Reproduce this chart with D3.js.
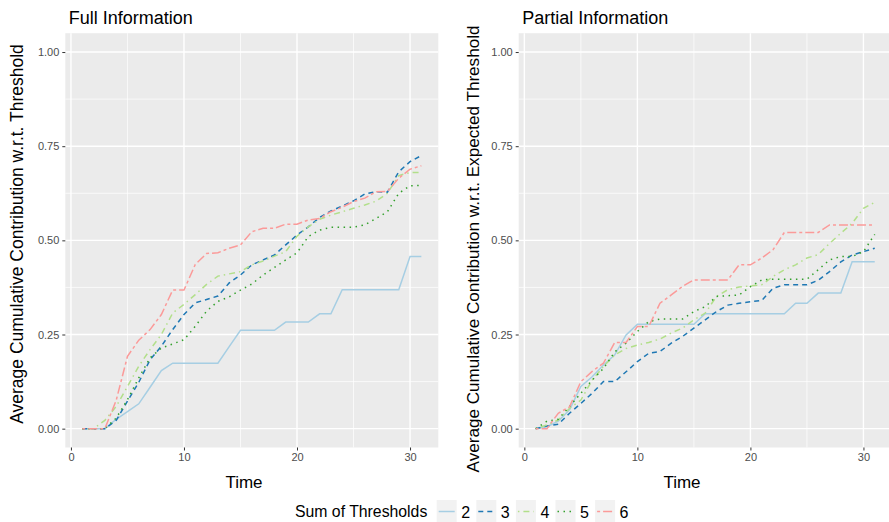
<!DOCTYPE html>
<html>
<head>
<meta charset="utf-8">
<script src="https://cdn.jsdelivr.net/npm/d3@7"></script>
<style>
  body { margin: 0; background: #fff; }
  text { font-family: "Liberation Sans", Arial, sans-serif; }
</style>
</head>
<body>
<div id="chart"></div>
<script>
// time steps
const times = [1,2,3,4,5,6,7,8,9,10,11,12,13,14,15,16,17,18,19,20,21,22,23,24,25,26,27,28,29,30,31];

// Full Information panel
const full2 = [0,0,0,0.025,0.045,0.066,0.11,0.154,0.174,0.174,0.174,0.174,0.174,0.218,0.261,0.261,0.261,0.261,0.283,0.283,0.283,0.305,0.305,0.369,0.369,0.369,0.369,0.369,0.369,0.457,0.457];
const full3 = [0,0,0,0.022,0.073,0.123,0.183,0.219,0.263,0.303,0.334,0.343,0.352,0.387,0.408,0.435,0.448,0.461,0.488,0.514,0.536,0.561,0.578,0.591,0.605,0.623,0.629,0.628,0.682,0.709,0.725];
const full4 = [0,0,0.022,0.059,0.112,0.166,0.21,0.25,0.307,0.33,0.356,0.383,0.405,0.411,0.417,0.435,0.445,0.458,0.47,0.511,0.536,0.556,0.567,0.576,0.585,0.594,0.604,0.625,0.672,0.68,0.68];
const full5 = [0,0,0,0.028,0.077,0.135,0.188,0.214,0.225,0.236,0.272,0.312,0.338,0.35,0.368,0.384,0.408,0.428,0.448,0.467,0.51,0.527,0.535,0.535,0.535,0.541,0.558,0.576,0.625,0.645,0.646];
const full6 = [0,0,0,0.075,0.192,0.235,0.263,0.303,0.368,0.368,0.436,0.465,0.467,0.479,0.488,0.523,0.532,0.532,0.543,0.543,0.554,0.558,0.576,0.588,0.603,0.612,0.629,0.63,0.665,0.689,0.698];

// Partial Information panel
const partial2 = [0,0.005,0.02,0.05,0.112,0.138,0.169,0.196,0.249,0.277,0.277,0.277,0.277,0.277,0.277,0.305,0.305,0.305,0.305,0.305,0.305,0.305,0.305,0.333,0.333,0.36,0.36,0.36,0.443,0.443,0.443];
const partial3 = [0,0.007,0.012,0.041,0.067,0.094,0.125,0.125,0.151,0.178,0.2,0.205,0.227,0.245,0.267,0.289,0.311,0.328,0.333,0.337,0.34,0.373,0.382,0.382,0.382,0.394,0.417,0.443,0.461,0.47,0.479];
const partial4 = [0,0.01,0.023,0.054,0.076,0.129,0.165,0.196,0.213,0.222,0.229,0.238,0.254,0.267,0.289,0.307,0.351,0.369,0.376,0.379,0.382,0.404,0.422,0.435,0.453,0.462,0.492,0.519,0.545,0.585,0.601];
const partial5 = [0,0.02,0.025,0.059,0.094,0.129,0.16,0.204,0.227,0.258,0.284,0.291,0.291,0.291,0.311,0.324,0.351,0.353,0.355,0.377,0.395,0.397,0.397,0.397,0.397,0.422,0.448,0.457,0.457,0.47,0.516];
const partial6 = [0,0,0.041,0.058,0.125,0.152,0.174,0.229,0.229,0.271,0.271,0.333,0.355,0.378,0.395,0.395,0.395,0.395,0.435,0.435,0.453,0.475,0.521,0.521,0.521,0.521,0.541,0.541,0.541,0.541,0.541];

const thresholds = ["2", "3", "4", "5", "6"];
const xTicks = [0, 10, 20, 30];
const yTicks = [0, 0.25, 0.5, 0.75, 1];

const colors = ["#A6CEE3", "#1F78B4", "#B2DF8A", "#33A02C", "#FB9A99"];
const dashes = [null, "5,4", "1.5,4,6,4", "1.5,4.5", "3,3,9,3"];

const W = 889, H = 522;
const svg = d3.select("#chart").append("svg")
    .attr("width", W)
    .attr("height", H);

function drawPanel(opts) {
  const x = d3.scaleLinear().domain([-0.5, 32.5]).range([opts.left, opts.left + 373]);
  const y = d3.scaleLinear().domain([-0.05, 1.05]).range([447.5, 33.2]);
  const g = svg.append("g");

  // panel background
  g.append("rect")
      .attr("x", x(-0.5))
      .attr("y", y(1.05))
      .attr("width", x(32.5) - x(-0.5))
      .attr("height", y(-0.05) - y(1.05))
      .attr("fill", "#EBEBEB");

  // minor grid
  [5, 15, 25].forEach(v => {
    g.append("line")
        .attr("x1", x(v)).attr("x2", x(v))
        .attr("y1", y(1.05)).attr("y2", y(-0.05))
        .attr("stroke", "#fff").attr("stroke-width", 0.7);
  });
  [0.125, 0.375, 0.625, 0.875].forEach(v => {
    g.append("line")
        .attr("x1", x(-0.5)).attr("x2", x(32.5))
        .attr("y1", y(v)).attr("y2", y(v))
        .attr("stroke", "#fff").attr("stroke-width", 0.7);
  });
  // major grid
  xTicks.forEach(v => {
    g.append("line")
        .attr("x1", x(v)).attr("x2", x(v))
        .attr("y1", y(1.05)).attr("y2", y(-0.05))
        .attr("stroke", "#fff").attr("stroke-width", 1.4);
  });
  yTicks.forEach(v => {
    g.append("line")
        .attr("x1", x(-0.5)).attr("x2", x(32.5))
        .attr("y1", y(v)).attr("y2", y(v))
        .attr("stroke", "#fff").attr("stroke-width", 1.4);
  });

  // axes
  const xAxis = g.append("g")
      .attr("transform", `translate(0, ${y(-0.05)})`)
      .call(d3.axisBottom(x).tickValues(xTicks).tickSize(3).tickPadding(3).tickFormat(d3.format("d")));
  const yAxis = g.append("g")
      .attr("transform", `translate(${x(-0.5)}, 0)`)
      .call(d3.axisLeft(y).tickValues(yTicks).tickSize(3).tickPadding(3).tickFormat(d3.format(".2f")));
  [xAxis, yAxis].forEach(a => {
    a.select(".domain").remove();
    a.selectAll(".tick line").attr("stroke", "#333").attr("stroke-width", 1);
    a.selectAll(".tick text")
        .attr("fill", "#4D4D4D")
        .style("font-size", "11px")
        .style("font-family", "'Liberation Sans', Arial, sans-serif");
  });

  // series lines
  const line = d3.line()
      .x((d, i) => x(times[i]))
      .y(d => y(d));
  opts.series.forEach((s, i) => {
    g.append("path")
        .datum(s)
        .attr("fill", "none")
        .attr("stroke", colors[i])
        .attr("stroke-width", 1.5)
        .attr("stroke-dasharray", dashes[i])
        .attr("d", line);
  });

  // title
  g.append("text")
      .attr("x", opts.left + 3.5)
      .attr("y", 24)
      .style("font-size", "18px")
      .attr("fill", "#000")
      .text(opts.title);

  // x title
  g.append("text")
      .attr("x", opts.timeX)
      .attr("y", 488)
      .attr("text-anchor", "middle")
      .style("font-size", "17px")
      .text("Time");

  // y title
  g.append("text")
      .attr("transform", `translate(${opts.yTitleX}, ${opts.yTitleY}) rotate(-90)`)
      .attr("text-anchor", "middle")
      .style("font-size", opts.yTitleSize)
      .text(opts.yTitle);
}

drawPanel({
  left: 65.3,
  title: "Full Information",
  yTitle: "Average Cumulative Contribution w.r.t. Threshold",
  yTitleX: 23,
  yTitleY: 234,
  yTitleSize: "17.5px",
  timeX: 244,
  series: [full2, full3, full4, full5, full6]
});

drawPanel({
  left: 518.7,
  title: "Partial Information",
  yTitle: "Average Cumulative Contribution w.r.t. Expected Threshold",
  yTitleX: 479,
  yTitleY: 249,
  yTitleSize: "17.1px",
  timeX: 682,
  series: [partial2, partial3, partial4, partial5, partial6]
});

// legend
const legend = svg.append("g");
legend.append("text")
    .attr("x", 295)
    .attr("y", 517)
    .style("font-size", "15.8px")
    .text("Sum of Thresholds");

thresholds.forEach((t, i) => {
  const kx = 436.7 + i * 39.6;
  legend.append("rect")
      .attr("x", kx)
      .attr("y", 500)
      .attr("width", 20)
      .attr("height", 22)
      .attr("fill", "#F2F2F2");
  legend.append("line")
      .attr("x1", kx + 2).attr("x2", kx + 18)
      .attr("y1", 511.5).attr("y2", 511.5)
      .attr("stroke", colors[i])
      .attr("stroke-width", 1.5)
      .attr("stroke-dasharray", dashes[i]);
  legend.append("text")
      .attr("x", kx + 24.5)
      .attr("y", 517.5)
      .style("font-size", "16px")
      .text(t);
});
</script>
</body>
</html>
